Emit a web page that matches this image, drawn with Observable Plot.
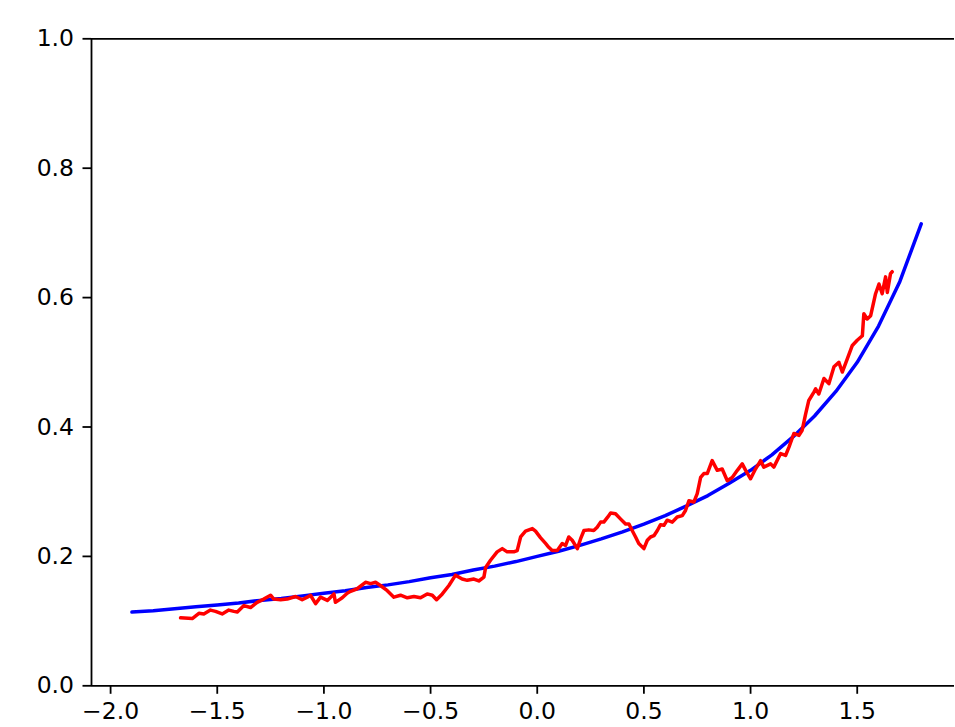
<!DOCTYPE html>
<html>
<head>
<meta charset="utf-8">
<script src="https://cdn.jsdelivr.net/npm/d3@7"></script>
<script src="https://cdn.jsdelivr.net/npm/@observablehq/plot@0.6"></script>
<style>
  html, body { margin: 0; padding: 0; background: white; }
</style>
</head>
<body>
<div id="chart"></div>
<script>
const xTicks = [-2.0, -1.5, -1.0, -0.5, 0.0, 0.5, 1.0, 1.5];
const yTicks = [0.0, 0.2, 0.4, 0.6, 0.8, 1.0];
const xDomain = [-2.0895, 1.956];
const yDomain = [0, 1];

const blueX = [-1.9,-1.8,-1.7,-1.6,-1.5,-1.4,-1.3,-1.2,-1.1,-1.0,-0.9,-0.8,-0.7,-0.6,-0.5,-0.4,-0.3,-0.2,-0.1,0.0,0.1,0.2,0.3,0.4,0.5,0.6,0.7,0.8,0.9,1.0,1.1,1.2,1.3,1.4,1.5,1.6,1.7,1.8];
const blueY = [0.114,0.116,0.119,0.122,0.125,0.128,0.132,0.135,0.139,0.143,0.147,0.152,0.156,0.161,0.167,0.172,0.179,0.185,0.192,0.200,0.208,0.217,0.227,0.238,0.250,0.263,0.278,0.294,0.313,0.333,0.357,0.385,0.417,0.455,0.500,0.556,0.625,0.714];

const redX = [-1.672,-1.617,-1.586,-1.563,-1.532,-1.508,-1.477,-1.446,-1.422,-1.406,-1.375,-1.344,-1.313,-1.282,-1.250,-1.235,-1.203,-1.172,-1.133,-1.102,-1.078,-1.063,-1.039,-1.016,-0.984,-0.953,-0.946,-0.914,-0.891,-0.875,-0.844,-0.805,-0.781,-0.758,-0.735,-0.703,-0.672,-0.641,-0.609,-0.578,-0.547,-0.516,-0.492,-0.472,-0.445,-0.414,-0.383,-0.352,-0.328,-0.297,-0.274,-0.250,-0.242,-0.219,-0.188,-0.164,-0.141,-0.110,-0.094,-0.078,-0.055,-0.023,-0.008,0.015,0.039,0.054,0.070,0.094,0.117,0.133,0.148,0.164,0.188,0.203,0.219,0.242,0.265,0.281,0.297,0.312,0.331,0.344,0.367,0.390,0.414,0.430,0.445,0.461,0.476,0.500,0.516,0.531,0.547,0.563,0.578,0.594,0.609,0.633,0.656,0.680,0.695,0.711,0.734,0.750,0.766,0.781,0.797,0.820,0.844,0.867,0.891,0.914,0.938,0.961,0.977,1.000,1.023,1.047,1.062,1.094,1.109,1.141,1.164,1.180,1.203,1.227,1.242,1.258,1.273,1.297,1.305,1.320,1.344,1.367,1.391,1.414,1.430,1.453,1.477,1.500,1.524,1.531,1.547,1.563,1.586,1.602,1.617,1.633,1.641,1.656,1.664];
const redY = [0.105,0.104,0.112,0.111,0.117,0.115,0.111,0.117,0.115,0.114,0.124,0.121,0.129,0.134,0.140,0.134,0.133,0.134,0.138,0.133,0.137,0.140,0.127,0.137,0.132,0.142,0.129,0.136,0.143,0.146,0.150,0.160,0.158,0.160,0.155,0.147,0.137,0.140,0.136,0.138,0.136,0.142,0.140,0.133,0.142,0.155,0.171,0.165,0.163,0.165,0.162,0.168,0.183,0.194,0.207,0.212,0.207,0.207,0.209,0.230,0.239,0.243,0.239,0.229,0.220,0.214,0.209,0.209,0.220,0.217,0.230,0.225,0.212,0.227,0.240,0.241,0.240,0.245,0.253,0.253,0.261,0.267,0.266,0.258,0.250,0.250,0.240,0.230,0.220,0.212,0.225,0.230,0.232,0.240,0.249,0.248,0.256,0.253,0.261,0.263,0.271,0.286,0.284,0.297,0.322,0.328,0.328,0.348,0.333,0.335,0.317,0.322,0.333,0.343,0.333,0.320,0.335,0.348,0.338,0.343,0.338,0.359,0.356,0.369,0.390,0.387,0.395,0.420,0.441,0.454,0.459,0.451,0.475,0.467,0.493,0.500,0.485,0.505,0.526,0.534,0.541,0.575,0.567,0.572,0.606,0.621,0.606,0.632,0.608,0.637,0.640];

const blue = blueX.map((x, i) => ({x, y: blueY[i]}));
const red = redX.map((x, i) => ({x, y: redY[i]}));

const chart = Plot.plot({
  width: 955,
  height: 727,
  marginLeft: 91,
  marginRight: 1,
  marginTop: 38.3,
  marginBottom: 41.7,
  x: {domain: xDomain},
  y: {domain: yDomain},
  style: {fontFamily: "DejaVu Sans", fontSize: "23.5px", color: "black", background: "white"},
  marks: [
    Plot.axisX({ticks: xTicks, tickFormat: d3.format(".1f"), tickSize: 8.5, tickPadding: 8, strokeWidth: 1.8, label: null}),
    Plot.axisY({ticks: yTicks, tickFormat: d3.format(".1f"), tickSize: 8.5, tickPadding: 9, strokeWidth: 1.8, label: null}),
    Plot.ruleY(yDomain, {stroke: "black", strokeWidth: 1.8}),
    Plot.ruleX([xDomain[0]], {stroke: "black", strokeWidth: 1.8}),
    Plot.line(blue, {x: "x", y: "y", stroke: "#0000ff", strokeWidth: 3.5}),
    Plot.line(red, {x: "x", y: "y", stroke: "#ff0000", strokeWidth: 3.5})
  ]
});
document.getElementById("chart").appendChild(chart);
</script>
</body>
</html>
